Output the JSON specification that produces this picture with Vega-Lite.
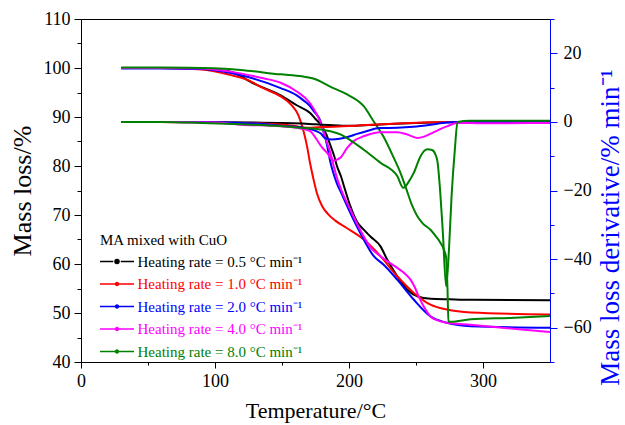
{
  "$schema": "https://vega.github.io/schema/vega-lite/v6.json",
  "width": 469,
  "height": 343,
  "autosize": "none",
  "padding": {"left": 81, "top": 19, "right": 75, "bottom": 63},
  "background": "white",
  "config": {
    "font": "Liberation Serif",
    "view": {"stroke": "black", "strokeWidth": 1},
    "axis": {
      "labelFont": "Liberation Serif",
      "titleFont": "Liberation Serif",
      "labelFontSize": 18,
      "titleFontSize": 22,
      "titleFontWeight": "normal",
      "labelColor": "black",
      "titleColor": "black",
      "domainColor": "black",
      "tickColor": "black",
      "grid": false,
      "labelFlush": false,
      "labelOverlap": false
    }
  },
  "datasets": {
    "mass": [
      {"s":"0.5","t":30,"m":100},{"s":"0.5","t":60,"m":100},{"s":"0.5","t":90,"m":99.8},{"s":"0.5","t":111,"m":99.3},{"s":"0.5","t":129,"m":96.8},{"s":"0.5","t":149,"m":94.4},{"s":"0.5","t":161,"m":92.4},{"s":"0.5","t":171,"m":90.8},{"s":"0.5","t":175,"m":89.6},{"s":"0.5","t":179,"m":88.4},{"s":"0.5","t":183,"m":86.5},{"s":"0.5","t":186,"m":84.3},{"s":"0.5","t":189,"m":82.0},{"s":"0.5","t":191,"m":80.0},{"s":"0.5","t":194,"m":77.9},{"s":"0.5","t":197,"m":75.2},{"s":"0.5","t":201,"m":71.8},{"s":"0.5","t":206,"m":68.6},{"s":"0.5","t":211,"m":67.0},{"s":"0.5","t":216,"m":65.6},{"s":"0.5","t":223.5,"m":63.6},{"s":"0.5","t":228.5,"m":60.9},{"s":"0.5","t":236,"m":57.5},{"s":"0.5","t":243.4,"m":54.8},{"s":"0.5","t":251,"m":53.4},{"s":"0.5","t":261,"m":52.9},{"s":"0.5","t":275,"m":52.8},{"s":"0.5","t":291,"m":52.7},{"s":"0.5","t":350,"m":52.6},
      {"s":"1.0","t":30,"m":100},{"s":"1.0","t":60,"m":100},{"s":"1.0","t":90,"m":99.7},{"s":"1.0","t":111,"m":98.6},{"s":"1.0","t":124,"m":97.6},{"s":"1.0","t":136,"m":95.9},{"s":"1.0","t":149,"m":94.2},{"s":"1.0","t":155,"m":93.0},{"s":"1.0","t":159,"m":91.8},{"s":"1.0","t":162,"m":90.5},{"s":"1.0","t":164,"m":89.0},{"s":"1.0","t":166,"m":87.2},{"s":"1.0","t":168.7,"m":84.0},{"s":"1.0","t":171,"m":80.5},{"s":"1.0","t":173.5,"m":77.3},{"s":"1.0","t":176,"m":74.5},{"s":"1.0","t":180,"m":71.8},{"s":"1.0","t":184,"m":70.3},{"s":"1.0","t":190,"m":68.8},{"s":"1.0","t":198.6,"m":67.3},{"s":"1.0","t":211,"m":65.0},{"s":"1.0","t":223.5,"m":61.6},{"s":"1.0","t":236,"m":57.5},{"s":"1.0","t":248.4,"m":54.1},{"s":"1.0","t":260.8,"m":51.7},{"s":"1.0","t":273,"m":50.7},{"s":"1.0","t":291,"m":50.1},{"s":"1.0","t":350,"m":49.7},
      {"s":"2.0","t":30,"m":99.9},{"s":"2.0","t":60,"m":99.9},{"s":"2.0","t":90,"m":99.8},{"s":"2.0","t":106,"m":99.3},{"s":"2.0","t":124,"m":98.2},{"s":"2.0","t":149,"m":95.9},{"s":"2.0","t":161,"m":94.4},{"s":"2.0","t":166,"m":93.4},{"s":"2.0","t":170,"m":92.5},{"s":"2.0","t":174,"m":91.1},{"s":"2.0","t":178.6,"m":89.2},{"s":"2.0","t":181,"m":87.0},{"s":"2.0","t":183.6,"m":84.3},{"s":"2.0","t":186,"m":80.9},{"s":"2.0","t":188.6,"m":78.3},{"s":"2.0","t":191,"m":76.4},{"s":"2.0","t":194,"m":74.6},{"s":"2.0","t":201,"m":70.4},{"s":"2.0","t":206,"m":67.6},{"s":"2.0","t":211,"m":65.0},{"s":"2.0","t":218.5,"m":61.6},{"s":"2.0","t":225.7,"m":59.9},{"s":"2.0","t":236,"m":56.8},{"s":"2.0","t":248.4,"m":52.7},{"s":"2.0","t":260.8,"m":49.3},{"s":"2.0","t":273,"m":48.0},{"s":"2.0","t":291,"m":47.3},{"s":"2.0","t":350,"m":47.0},
      {"s":"4.0","t":30,"m":100},{"s":"4.0","t":60,"m":100},{"s":"4.0","t":90,"m":99.9},{"s":"4.0","t":119,"m":98.9},{"s":"4.0","t":136,"m":97.9},{"s":"4.0","t":149,"m":97.0},{"s":"4.0","t":161,"m":95.2},{"s":"4.0","t":171,"m":92.8},{"s":"4.0","t":176,"m":90.5},{"s":"4.0","t":178.6,"m":89.0},{"s":"4.0","t":181,"m":87.0},{"s":"4.0","t":183.6,"m":84.8},{"s":"4.0","t":186,"m":82.8},{"s":"4.0","t":188.6,"m":80.0},{"s":"4.0","t":191,"m":77.6},{"s":"4.0","t":194,"m":75.3},{"s":"4.0","t":201,"m":71.1},{"s":"4.0","t":206,"m":68.2},{"s":"4.0","t":211,"m":65.6},{"s":"4.0","t":216,"m":63.4},{"s":"4.0","t":223.5,"m":61.6},{"s":"4.0","t":230,"m":60.3},{"s":"4.0","t":236,"m":59.2},{"s":"4.0","t":241,"m":58.2},{"s":"4.0","t":245.9,"m":56.8},{"s":"4.0","t":249,"m":55.3},{"s":"4.0","t":252,"m":53.4},{"s":"4.0","t":256,"m":51.2},{"s":"4.0","t":260.8,"m":49.3},{"s":"4.0","t":266,"m":48.5},{"s":"4.0","t":273.3,"m":48.0},{"s":"4.0","t":290.7,"m":47.6},{"s":"4.0","t":350,"m":46.1},
      {"s":"8.0","t":30,"m":100.1},{"s":"8.0","t":60,"m":100.1},{"s":"8.0","t":99,"m":99.95},{"s":"8.0","t":119,"m":99.6},{"s":"8.0","t":149,"m":98.7},{"s":"8.0","t":165,"m":98.3},{"s":"8.0","t":174,"m":97.8},{"s":"8.0","t":186,"m":96.2},{"s":"8.0","t":198.6,"m":94.6},{"s":"8.0","t":211,"m":92.2},{"s":"8.0","t":218,"m":89.3},{"s":"8.0","t":225.7,"m":86.0},{"s":"8.0","t":233,"m":81.9},{"s":"8.0","t":238.4,"m":78.6},{"s":"8.0","t":243.4,"m":74.8},{"s":"8.0","t":247,"m":72.0},{"s":"8.0","t":250.9,"m":69.8},{"s":"8.0","t":255,"m":68.3},{"s":"8.0","t":260.8,"m":67.0},{"s":"8.0","t":265,"m":65.6},{"s":"8.0","t":268.3,"m":64.3},{"s":"8.0","t":271,"m":62.8},{"s":"8.0","t":272.5,"m":61.3},{"s":"8.0","t":273.5,"m":55},{"s":"8.0","t":274.2,"m":48.3},{"s":"8.0","t":276,"m":48.2},{"s":"8.0","t":290.7,"m":48.7},{"s":"8.0","t":320,"m":49.0},{"s":"8.0","t":350,"m":49.4}
    ],
    "deriv": [
      {"s":"0.5","t":30,"d":0},{"s":"0.5","t":60,"d":0},{"s":"0.5","t":100,"d":-0.1},{"s":"0.5","t":130,"d":-0.2},{"s":"0.5","t":150,"d":-0.3},{"s":"0.5","t":165,"d":-0.5},{"s":"0.5","t":175,"d":-0.7},{"s":"0.5","t":185,"d":-0.9},{"s":"0.5","t":195,"d":-1.1},{"s":"0.5","t":205,"d":-1.1},{"s":"0.5","t":215,"d":-0.9},{"s":"0.5","t":230,"d":-0.6},{"s":"0.5","t":250,"d":-0.3},{"s":"0.5","t":270,"d":-0.1},{"s":"0.5","t":290,"d":0},{"s":"0.5","t":350,"d":0},
      {"s":"1.0","t":30,"d":0},{"s":"1.0","t":60,"d":0},{"s":"1.0","t":100,"d":-0.2},{"s":"1.0","t":130,"d":-0.4},{"s":"1.0","t":150,"d":-0.8},{"s":"1.0","t":160,"d":-1.2},{"s":"1.0","t":166,"d":-1.6},{"s":"1.0","t":172,"d":-1.7},{"s":"1.0","t":180,"d":-1.5},{"s":"1.0","t":195,"d":-1.3},{"s":"1.0","t":210,"d":-1.0},{"s":"1.0","t":225,"d":-0.7},{"s":"1.0","t":240,"d":-0.4},{"s":"1.0","t":260,"d":-0.1},{"s":"1.0","t":275,"d":0},{"s":"1.0","t":350,"d":0},
      {"s":"2.0","t":30,"d":0},{"s":"2.0","t":60,"d":0},{"s":"2.0","t":100,"d":-0.1},{"s":"2.0","t":130,"d":-0.5},{"s":"2.0","t":149,"d":-1.1},{"s":"2.0","t":166,"d":-1.7},{"s":"2.0","t":175,"d":-2.6},{"s":"2.0","t":179,"d":-3.4},{"s":"2.0","t":182,"d":-4.7},{"s":"2.0","t":187,"d":-5.1},{"s":"2.0","t":193,"d":-4.9},{"s":"2.0","t":199,"d":-4.4},{"s":"2.0","t":206,"d":-3.5},{"s":"2.0","t":213,"d":-2.7},{"s":"2.0","t":223,"d":-1.8},{"s":"2.0","t":236,"d":-1.7},{"s":"2.0","t":248,"d":-1.4},{"s":"2.0","t":261,"d":-0.8},{"s":"2.0","t":270,"d":-0.3},{"s":"2.0","t":281,"d":0},{"s":"2.0","t":350,"d":0},
      {"s":"4.0","t":30,"d":0},{"s":"4.0","t":60,"d":0},{"s":"4.0","t":100,"d":-0.2},{"s":"4.0","t":119,"d":-0.8},{"s":"4.0","t":149,"d":-1.3},{"s":"4.0","t":164,"d":-1.9},{"s":"4.0","t":171,"d":-2.7},{"s":"4.0","t":176,"d":-5.2},{"s":"4.0","t":180,"d":-7.5},{"s":"4.0","t":183.6,"d":-9.0},{"s":"4.0","t":188.6,"d":-11.3},{"s":"4.0","t":191,"d":-11.0},{"s":"4.0","t":194,"d":-10.3},{"s":"4.0","t":198.6,"d":-7.6},{"s":"4.0","t":203.5,"d":-5.6},{"s":"4.0","t":211,"d":-4.2},{"s":"4.0","t":223.5,"d":-3.0},{"s":"4.0","t":236,"d":-3.0},{"s":"4.0","t":243,"d":-3.6},{"s":"4.0","t":251,"d":-4.7},{"s":"4.0","t":256,"d":-4.3},{"s":"4.0","t":261,"d":-3.4},{"s":"4.0","t":267,"d":-2.3},{"s":"4.0","t":273,"d":-1.3},{"s":"4.0","t":281,"d":-0.3},{"s":"4.0","t":300,"d":-0.4},{"s":"4.0","t":350,"d":-0.3},
      {"s":"8.0","t":30,"d":0},{"s":"8.0","t":60,"d":0},{"s":"8.0","t":90,"d":-0.3},{"s":"8.0","t":120,"d":-0.7},{"s":"8.0","t":149,"d":-1.2},{"s":"8.0","t":164,"d":-1.7},{"s":"8.0","t":179,"d":-2.2},{"s":"8.0","t":186,"d":-2.7},{"s":"8.0","t":194,"d":-3.7},{"s":"8.0","t":198.6,"d":-4.7},{"s":"8.0","t":211,"d":-8.1},{"s":"8.0","t":223.5,"d":-11.9},{"s":"8.0","t":236,"d":-15.8},{"s":"8.0","t":240.5,"d":-19.2},{"s":"8.0","t":244.5,"d":-17.5},{"s":"8.0","t":248.4,"d":-14.8},{"s":"8.0","t":253.4,"d":-10},{"s":"8.0","t":258.5,"d":-8.0},{"s":"8.0","t":262,"d":-8.2},{"s":"8.0","t":264.5,"d":-9.5},{"s":"8.0","t":266,"d":-11.5},{"s":"8.0","t":268,"d":-20},{"s":"8.0","t":270,"d":-32},{"s":"8.0","t":272.5,"d":-48},{"s":"8.0","t":274.5,"d":-38},{"s":"8.0","t":276.5,"d":-22},{"s":"8.0","t":279,"d":-8},{"s":"8.0","t":281,"d":0},{"s":"8.0","t":290,"d":0.3},{"s":"8.0","t":350,"d":0.3}
    ]
  },
  "layer": [
    {
      "data": {"name": "mass"},
      "mark": {"type": "line", "strokeWidth": 2, "interpolate": "monotone"},
      "encoding": {
        "x": {
          "field": "t", "type": "quantitative",
          "scale": {"domain": [0, 350], "nice": false, "zero": false},
          "axis": {
            "title": "Temperature/°C",
            "values": [0, 50, 100, 150, 200, 250, 300],
            "labelExpr": "datum.value % 100 === 0 ? datum.label : ''",
            "tickSize": {"condition": {"test": "datum.value % 100 === 0", "value": 6}, "value": 3},
            "labelPadding": 4,
            "titlePadding": 10
          }
        },
        "y": {
          "field": "m", "type": "quantitative",
          "scale": {"domain": [40, 110], "nice": false, "zero": false},
          "axis": {
            "title": "Mass loss/%",
            "titleFontSize": 26,
            "values": [40, 45, 50, 55, 60, 65, 70, 75, 80, 85, 90, 95, 100, 105, 110],
            "labelExpr": "datum.value % 10 === 0 ? datum.label : ''",
            "tickSize": {"condition": {"test": "datum.value % 10 === 0", "value": 7}, "value": 4},
            "labelPadding": 4,
            "titlePadding": 8
          }
        },
        "color": {
          "field": "s", "type": "nominal",
          "scale": {"domain": ["0.5", "1.0", "2.0", "4.0", "8.0"], "range": ["#000000", "#ff0000", "#0000ff", "#ff00ff", "#008000"]},
          "legend": {
            "orient": "none",
            "legendX": 19,
            "legendY": 214,
            "padding": 0,
            "title": "MA mixed with CuO",
            "titleFont": "Liberation Serif",
            "titleFontSize": 15,
            "titleFontWeight": "normal",
            "titleColor": "black",
            "titlePadding": 5,
            "titleLimit": 300,
            "labelFont": "Liberation Serif",
            "labelFontSize": 15,
            "labelLimit": 400,
            "labelOffset": 12,
            "labelExpr": "'Heating rate = ' + datum.label + ' °C min⁻¹'",
            "labelColor": {"expr": "scale('color', datum.value)"},
            "symbolType": {"expr": "datum.value === '0.5' ? 'M-2.27,0H-0.5M0.5,0H2.27M-0.27,0A0.27,0.27 0 1,0 0.27,0A0.27,0.27 0 1,0 -0.27,0Z' : 'M-2.27,0H2.27M-0.2,0A0.2,0.2 0 1,0 0.2,0A0.2,0.2 0 1,0 -0.2,0Z'"},
            "symbolSize": 225,
            "symbolStrokeWidth": 1.5,
            "symbolOffset": 8.5,
            "symbolFillColor": {"expr": "scale('color', datum.value)"},
            "rowPadding": 5.5
          }
        }
      }
    },
    {
      "data": {"name": "deriv"},
      "mark": {"type": "line", "strokeWidth": 2, "interpolate": "monotone"},
      "encoding": {
        "x": {"field": "t", "type": "quantitative"},
        "y": {
          "field": "d", "type": "quantitative",
          "scale": {"domain": [-70, 30], "nice": false, "zero": false},
          "axis": {
            "orient": "right",
            "title": "Mass loss derivative/% min⁻¹",
            "titleFontSize": 27,
            "values": [-70, -60, -50, -40, -30, -20, -10, 0, 10, 20, 30],
            "labelExpr": "datum.value % 20 === 0 ? datum.label : ''",
            "tickSize": {"condition": {"test": "datum.value % 20 === 0", "value": 7}, "value": 4},
            "domainColor": "#0000ff",
            "tickColor": "#0000ff",
            "titleColor": "#0000ff",
            "labelColor": "black",
            "labelPadding": 6,
            "titlePadding": 6,
            "titleAngle": 270,
            "titleBaseline": "top",
            "titleY": 208
          }
        },
        "color": {"field": "s", "type": "nominal"}
      }
    }
  ],
  "resolve": {"scale": {"y": "independent"}}
}
